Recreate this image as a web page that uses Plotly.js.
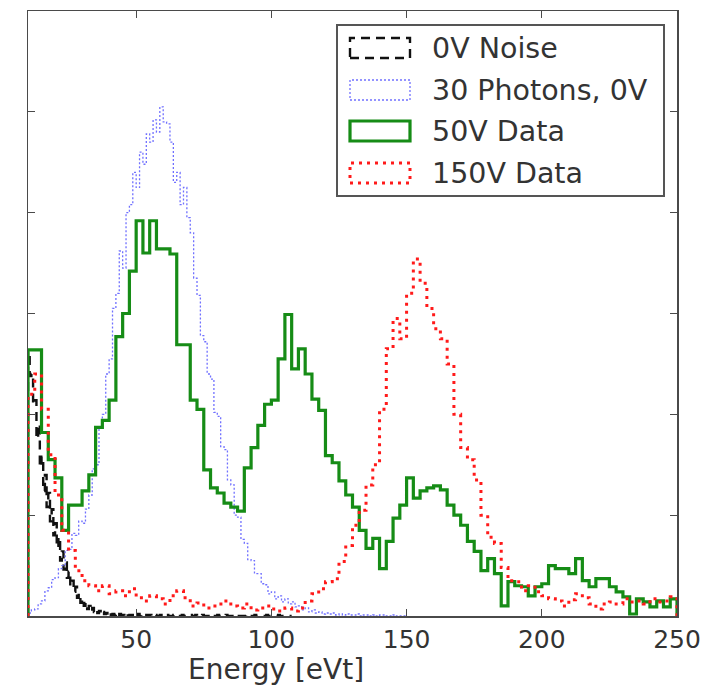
<!DOCTYPE html>
<html>
<head>
<meta charset="utf-8">
<script src="https://cdn.plot.ly/plotly-3.0.1.min.js"></script>
<style>html,body{margin:0;padding:0;background:#fff;}#chart{width:723px;height:687px;}</style>
</head>
<body>
<div id="chart"></div>
<script>
// ---- data (histogram counts, arbitrary units) ----
const seriesNames = ['0V Noise', '30 Photons, 0V', '50V Data', '150V Data'];
const energyTicks = [50, 100, 150, 200, 250];

// 0V Noise: bins of 0.625 eV starting at 10 eV
const noiseStart = 10, noiseBin = 0.625;
const noiseCounts = [262, 238, 240, 210, 214, 176, 190, 148, 158, 124,
  140, 108, 122, 94, 106, 80, 92, 68, 78, 55,
  64, 46, 53, 38, 44, 30, 35, 24, 29, 18,
  22, 13, 17, 10, 13, 7, 10, 5, 8, 4,
  6, 3, 5, 2, 4, 2, 3, 1, 3, 1,
  2, 1, 2, 0, 2, 1, 1, 0, 2, 0,
  1, 1, 0, 1, 0, 2, 0, 1, 0, 0,
  1, 0, 1, 0, 0, 1, 0, 0, 1, 0,
  0, 0, 1, 0, 0, 0, 1, 0, 0, 0,
  0, 1, 0, 0, 0, 0, 1, 0, 0, 1,
  0, 0, 0, 1, 0, 0, 0, 0, 1, 0,
  0, 0, 1, 0, 0, 0, 0, 1, 0, 0,
  0, 0, 0, 1, 0, 0, 0, 0, 0, 1,
  0, 0, 0, 0, 1, 0, 0, 0, 0, 0,
  0, 1, 0, 0, 0, 0, 0, 0, 1, 0,
  0, 0, 0, 0, 0, 0];

// 30 Photons, 0V: bins of 1.25 eV starting at 10 eV
const photonStart = 10, photonBin = 1.25;
const photonCounts = [3, 6, 7, 12, 15, 25, 28, 36, 38, 47,
  50, 65, 66, 82, 80, 94, 92, 106, 120, 146,
  150, 186, 200, 240, 255, 305, 320, 362, 345, 400,
  408, 440, 425, 460, 448, 478, 470, 492, 480, 505,
  490, 488, 470, 430, 440, 408, 425, 395, 380, 335,
  318, 278, 272, 240, 235, 202, 198, 168, 165, 135,
  130, 100, 98, 76, 72, 56, 55, 42, 42, 32,
  31, 22, 24, 17, 20, 14, 17, 12, 14, 9,
  10, 6, 8, 4, 6, 3, 4, 2, 3, 2,
  3, 1, 2, 1, 2, 1, 1, 2, 0, 1,
  1, 0, 1, 0, 1, 1, 0, 0, 1, 0, 0, 0];

// 50V Data: bins of 2.5 eV starting at 10 eV
const data50Start = 10, data50Bin = 2.5;
const data50Counts = [264, 264, 182, 155, 137, 85, 110, 110, 124, 140,
  187, 194, 214, 277, 300, 342, 392, 360, 392, 364,
  364, 359, 269, 269, 214, 205, 145, 127, 122, 112,
  108, 104, 147, 167, 189, 210, 214, 255, 299, 245,
  265, 240, 215, 204, 159, 152, 134, 120, 108, 85,
  67, 77, 47, 74, 97, 110, 137, 117, 124, 127,
  129, 125, 110, 100, 90, 74, 64, 45, 57, 42,
  10, 34, 30, 29, 20, 29, 32, 50, 47, 47,
  42, 57, 35, 29, 37, 37, 29, 24, 19, 2,
  17, 14, 9, 15, 9, 17];

// 150V Data: bins of 2.5 eV starting at 10 eV
const data150Start = 10, data150Bin = 2.5;
const data150Counts = [220, 240, 205, 160, 120, 85, 65, 45, 35, 30,
  25, 30, 22, 25, 20, 27, 18, 15, 20, 17,
  12, 20, 25, 18, 10, 13, 8, 10, 12, 15,
  10, 8, 12, 6, 8, 10, 7, 5, 8, 5,
  8, 15, 22, 27, 34, 37, 54, 70, 90, 105,
  130, 150, 205, 265, 295, 275, 320, 354, 330, 305,
  285, 275, 250, 200, 167, 155, 135, 100, 78, 72,
  48, 35, 34, 25, 30, 24, 20, 17, 15, 10,
  16, 22, 18, 12, 7, 12, 14, 12, 17, 14,
  15, 12, 17, 14, 15, 19];

// ---- build step outlines (matplotlib histtype='step') ----
function stepOutline(start, width, counts) {
  const x = [start], y = [0];
  for (let i = 0; i < counts.length; i++) { x.push(start + i * width); y.push(counts[i]); }
  const end = start + counts.length * width;
  x.push(end); y.push(counts[counts.length - 1]);
  x.push(end); y.push(0);
  return {x, y};
}

const styles = [
  {color: '#111111', width: 2.4, dash: '9px,6px'},
  {color: '#7070ff', width: 1.3, dash: '2px,2px'},
  {color: '#168c16', width: 3.2, dash: 'solid'},
  {color: '#ff1a1a', width: 3, dash: '3px,5px'}
];
const sets = [
  stepOutline(noiseStart, noiseBin, noiseCounts),
  stepOutline(photonStart, photonBin, photonCounts),
  stepOutline(data50Start, data50Bin, data50Counts),
  stepOutline(data150Start, data150Bin, data150Counts)
];
const traces = sets.map((s, k) => ({
  type: 'scatter', mode: 'lines', name: seriesNames[k],
  x: s.x, y: s.y, line: {shape: 'hv', color: styles[k].color, width: styles[k].width, dash: styles[k].dash},
  hoverinfo: 'skip'
}));

// ---- layout ----
const W = 723, H = 687;
const M = {l: 28, r: 46, t: 11, b: 71};
const pw = W - M.l - M.r, ph = H - M.t - M.b;
const px = v => (v - M.l) / pw;           // pixel -> paper x
const py = v => (H - M.b - v) / ph;       // pixel -> paper y
const font = 'DejaVu Sans, Liberation Sans, sans-serif';
const axisCol = '#4a4a4a';

const shapes = [{
  type: 'rect', xref: 'paper', yref: 'paper',
  x0: px(337), x1: px(664), y0: py(196), y1: py(25),
  line: {color: '#555', width: 2}, fillcolor: '#ffffff', layer: 'above'
}];
const annotations = [];
const rowY = [48, 90, 131, 173];
seriesNames.forEach((nm, k) => {
  shapes.push({
    type: 'rect', xref: 'paper', yref: 'paper',
    x0: px(350), x1: px(410), y0: py(rowY[k] + 10), y1: py(rowY[k] - 10),
    line: {color: styles[k].color, width: styles[k].width, dash: styles[k].dash},
    fillcolor: 'rgba(0,0,0,0)', layer: 'above'
  });
  annotations.push({
    xref: 'paper', yref: 'paper', x: px(430), y: py(rowY[k]),
    xanchor: 'left', yanchor: 'middle', showarrow: false, text: nm,
    font: {family: font, size: 28.5, color: '#333'}
  });
});
annotations.push({
  xref: 'paper', yref: 'paper', x: px(276), y: py(669),
  xanchor: 'center', yanchor: 'middle', showarrow: false, text: 'Energy [eVt]',
  font: {family: font, size: 28, color: '#333'}
});

const layout = {
  width: W, height: H, margin: M,
  paper_bgcolor: '#ffffff', plot_bgcolor: '#ffffff',
  showlegend: false,
  font: {family: font, color: '#333'},
  xaxis: {
    range: [10, 250], tickvals: energyTicks, ticktext: energyTicks.map(String),
    ticks: 'inside', ticklen: 7, tickwidth: 1, tickcolor: axisCol,
    showline: true, mirror: 'ticks', linecolor: axisCol, linewidth: 1.5,
    showgrid: false, zeroline: false,
    tickfont: {family: font, size: 25, color: '#333'}
  },
  yaxis: {
    range: [0, 600], dtick: 100, tick0: 0,
    ticks: 'inside', ticklen: 7, tickwidth: 1, tickcolor: axisCol,
    showline: true, mirror: 'ticks', linecolor: axisCol, linewidth: 1.5,
    showgrid: false, zeroline: false, showticklabels: false
  },
  shapes, annotations
};

Plotly.newPlot('chart', traces, layout, {staticPlot: true, displayModeBar: false});
</script>
</body>
</html>
